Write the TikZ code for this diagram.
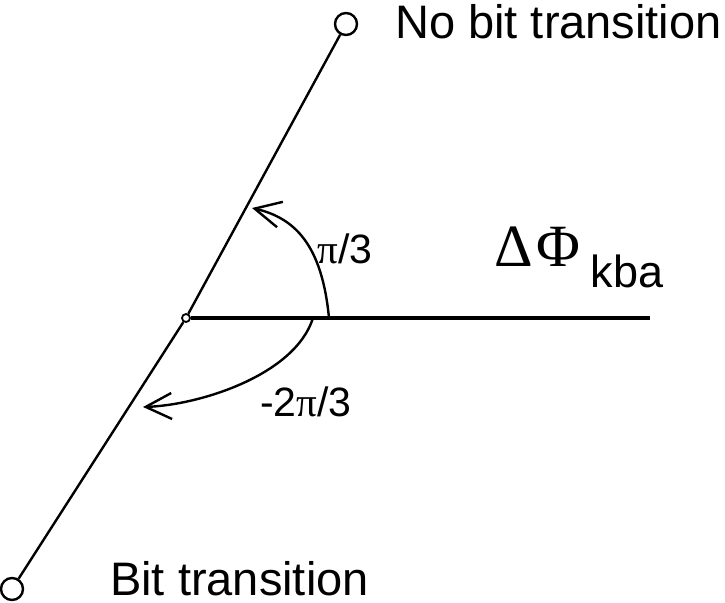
\documentclass[tikz,border=0pt]{standalone}
\usepackage{fontspec}
\setmainfont{Liberation Sans}
\newfontfamily\symfont{Liberation Serif}
\usetikzlibrary{arrows.meta}

\begin{document}
\begin{tikzpicture}[x=0.5pt, y=-0.5pt, line width=1.2pt,
    endpt/.style={circle, draw, fill=white, inner sep=0pt, minimum size=11pt},
    origin/.style={circle, draw, fill=white, inner sep=0pt, minimum size=4pt, line width=0.9pt},
    barb/.style={-{Straight Barb[length=13pt, width=13pt, line width=1.2pt]}},
    biglabel/.style={anchor=base west, inner sep=0pt, font=\fontsize{23.5}{28}\selectfont},
    anglabel/.style={inner sep=0pt, font=\fontsize{20.5}{24}\selectfont}]

    \useasboundingbox (0,0) rectangle (725,602);

    % Origin and the two end points
    \node[origin] (o) at (186,318) {};
    \node[endpt] (nobit) at (346,24) {};
    \node[endpt] (bit) at (12,589) {};
    \coordinate (axisend) at (650,318);

    % Lines
    \draw (o) -- (nobit);
    \draw (o) -- (bit);
    \draw[line width=1.6pt] (o) -- (axisend);

    % Angle arrows
    \coordinate (pstart) at (329,318);
    \coordinate (pend) at (252,208);
    \draw[barb] (pstart) .. controls (322,245) and (295,218) .. (pend);

    \coordinate (mstart) at (313,318);
    \coordinate (mend) at (143,407);
    \draw[barb] (mstart) .. controls (295,375) and (200,405) .. (mend);

    % Labels
    \node[biglabel] (nobitlabel) at (394,38) {No bit transition};
    \node[biglabel] (bitlabel) at (109,595) {Bit transition};
    \node[anglabel] (plus) at (345,249) {{\symfont π}/3};
    \node[anglabel] (minus) at (306,402) {-2{\symfont π}/3};
    \node[anchor=base west, inner sep=0pt] (dphi) at (493,266)
        {{\fontsize{30}{34}\symfont Δ\hspace{2pt}Φ}\hspace{5pt}\raisebox{-10.5pt}{\fontsize{22.5}{26}\selectfont kba}};

\end{tikzpicture}
\end{document}
